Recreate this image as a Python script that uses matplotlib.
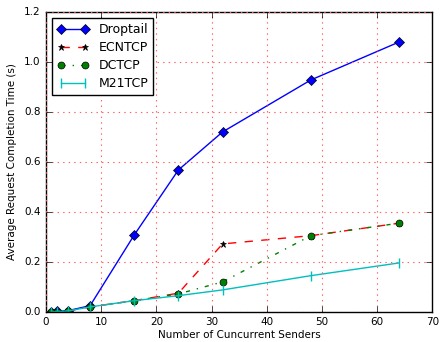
import matplotlib
matplotlib.use("Agg")
import matplotlib.pyplot as plt

plt.style.use("classic")

senders = [1, 2, 4, 8, 16, 24, 32, 48, 64]
droptail = [0.0, 0.002, 0.005, 0.025, 0.308, 0.568, 0.72, 0.928, 1.08]
ecntcp = [0.0, 0.001, 0.004, 0.02, 0.045, 0.075, 0.272, 0.305, 0.355]
dctcp = [0.0, 0.001, 0.004, 0.02, 0.045, 0.072, 0.12, 0.305, 0.355]
m21tcp = [0.0, 0.001, 0.004, 0.02, 0.045, 0.065, 0.088, 0.145, 0.196]

fig = plt.figure(figsize=(4.42, 3.42), dpi=100)
ax = fig.add_axes([0.104, 0.088, 0.874, 0.877])

ax.plot(senders, droptail, "b-", marker="D", markersize=5, label="Droptail")
ax.plot(senders, ecntcp, "r--", marker="*", markersize=5, markerfacecolor="k",
        markeredgecolor="k", label="ECNTCP")
ax.plot(senders, dctcp, "g-.", marker="o", markersize=5, label="DCTCP")
ax.plot(senders, m21tcp, "c-", marker="|", markersize=7, markeredgewidth=1, label="M21TCP")

ax.set_xlim(0, 70)
ax.set_ylim(0, 1.2)
ax.set_xlabel("Number of Cuncurrent Senders", fontsize=7.5, labelpad=2)
ax.set_ylabel("Average Request Completion Time (s)", fontsize=7.5)
ax.tick_params(labelsize=7.5)
ax.grid(True, color="#ff6060", linestyle=":", linewidth=0.8)
ax.legend(loc="upper left", fontsize=9, numpoints=2, handlelength=2.5, labelspacing=0.4)

fig.savefig("out.png", dpi=100)
